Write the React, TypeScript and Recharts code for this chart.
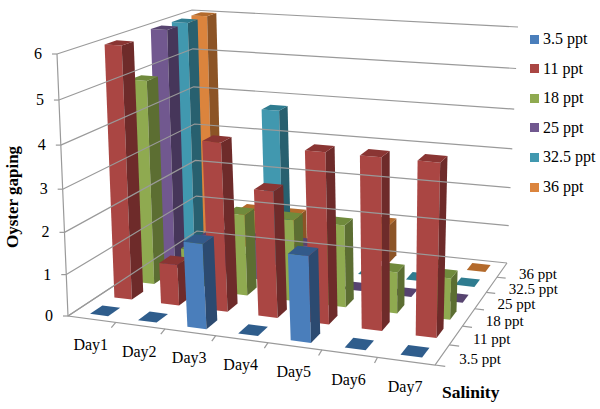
import React from "react";
import { BarChart, Bar, XAxis, YAxis, Legend, Customized } from "recharts";

const days = ["Day1", "Day2", "Day3", "Day4", "Day5", "Day6", "Day7"];
const salinityLabels = ["3.5 ppt", "11 ppt", "18 ppt", "25 ppt", "32.5 ppt", "36 ppt"];
const s35 = [0, 0, 2, 0, 2, 0, 0];
const s11 = [6, 1, 4, 3, 4, 4, 4];
const s18 = [5, 1, 2, 2, 2, 1, 1];
const s25 = [6, 1, 1, 1, 0, 0, 0];
const s325 = [6, 0, 4, 0, 0, 0, 0];
const s36 = [6, 1, 1, 0, 1, 0, 0];
const seriesValues = [s35, s11, s18, s25, s325, s36];
const yTicks = [0, 1, 2, 3, 4, 5, 6];

const front = ["#4A7EBB", "#AA4643", "#8FAA50", "#71588F", "#4198AF", "#DB843D"];
const side = ["#2C4A70", "#6E2B2A", "#5C6E32", "#46365A", "#28606F", "#8C5426"];
const topC = ["#335A8A", "#8A3533", "#708A3C", "#574470", "#2F7C90", "#B36A2C"];

const tableData = days.map((d, i) => {
  const row: Record<string, any> = { day: d };
  salinityLabels.forEach((s, k) => (row[s] = seriesValues[k][i]));
  return row;
});

const W = 600, H = 409;
const M = { top: 20, right: 20, bottom: 20, left: 20 };
const XH = 30, YW = 30;
const PL = M.left + YW, PT = M.top, PW = W - M.left - M.right - YW, PH = H - M.top - M.bottom - XH;

type P = [number, number];
const quad = (a: P, b: P, c: P, d: P) => {
  const dx1 = b[0] - c[0], dx2 = d[0] - c[0], sx = a[0] - b[0] + c[0] - d[0];
  const dy1 = b[1] - c[1], dy2 = d[1] - c[1], sy = a[1] - b[1] + c[1] - d[1];
  const den = dx1 * dy2 - dx2 * dy1;
  const g = (sx * dy2 - dx2 * sy) / den, h = (dx1 * sy - sx * dy1) / den;
  const A = b[0] - a[0] + g * b[0], B = d[0] - a[0] + h * d[0], C = a[0];
  const D = b[1] - a[1] + g * b[1], E = d[1] - a[1] + h * d[1], F = a[1];
  return (u: number, v: number): P => {
    const q = g * u + h * v + 1;
    return [(A * u + B * v + C) / q, (D * u + E * v + F) / q];
  };
};
const floor = quad([68, 316], [435, 365], [507, 263], [197, 231]);
const ceil = quad([57, 54], [441, 85], [518, 27], [192, 10]);
const K = 0.938;
const proj = (u: number, v: number, w: number): P => {
  const a = floor(u, v), b = ceil(u, v);
  const t = (w * K) / (1 + (K - 1) * w);
  return [a[0] + (b[0] - a[0]) * t, a[1] + (b[1] - a[1]) * t];
};
const pts = (l: P[]) => l.map((p) => p[0].toFixed(1) + "," + p[1].toFixed(1)).join(" ");
const GRID = "#9a9a9a";
const FONT = "'Liberation Serif', serif";

const BAR_U = 0.19, BAR_V = 0.25;

const makeShape = (k: number) => (props: any) => {
  const { x, y, width, height } = props;
  if (x == null) return null;
  const u = (x + width / 2 - PL) / PW + 0.003;
  const w0 = (PT + PH - (y + height)) / PH;
  const w1 = (PT + PH - y) / PH;
  const hu = BAR_U / 7, v = (k + 0.5) / 6, hv = BAR_V / 6;
  const c = (du: number, dv: number, ww: number) => proj(u + du * hu, v + dv * hv, ww);
  const top = [c(-1, -1, w1), c(1, -1, w1), c(1, 1, w1), c(-1, 1, w1)];
  if (w1 - w0 < 0.001) return <polygon points={pts(top)} fill={k === 0 ? "#2F5D8C" : topC[k]} />;
  return (
    <g>
      <polygon points={pts([c(-1, -1, w0), c(1, -1, w0), c(1, -1, w1), c(-1, -1, w1)])} fill={front[k]} />
      <polygon points={pts([c(1, -1, w0), c(1, 1, w0), c(1, 1, w1), c(1, -1, w1)])} fill={side[k]} />
      <polygon points={pts(top)} fill={topC[k]} />
    </g>
  );
};

const xTick = (props: any) => {
  const { x, payload } = props;
  const u = (x - PL) / PW;
  const p = proj(u, 0, 0);
  const a = proj(u - 0.5 / 7, 0, 0);
  const b = proj(u - 0.5 / 7, -0.03, 0);
  const i = days.indexOf(payload.value);
  return (
    <g>
      {i > 0 && <line x1={a[0]} y1={a[1]} x2={b[0]} y2={b[1] + 2} stroke={GRID} strokeWidth={1.2} />}
      <text x={p[0] - 1} y={p[1] + 31} textAnchor="middle" fontFamily={FONT} fontSize={16} fill="#000">{payload.value}</text>
    </g>
  );
};

const yTick = (props: any) => {
  const { y, payload } = props;
  const w = (PT + PH - y) / PH;
  const a = proj(0, 0, w), b = proj(0, 1, w), c = proj(1, 1, w);
  return (
    <g>
      <polyline points={pts([a, b, c])} fill="none" stroke={GRID} strokeWidth={1.2} />
      <line x1={a[0] - 5} y1={a[1]} x2={a[0]} y2={a[1]} stroke={GRID} strokeWidth={1.2} />
      <text x={a[0] - 15} y={a[1] + 5} textAnchor="end" fontFamily={FONT} fontSize={16} fill="#000">{payload.value}</text>
    </g>
  );
};

const Frame = () => {
  const p0 = proj(0, 0, 0), p1 = proj(1, 0, 0), p2 = proj(1, 1, 0), p6 = proj(0, 0, 1), p3 = proj(0, 1, 0);
  return (
    <g>
      <polyline points={pts([p6, p0, p1, p2])} fill="none" stroke={GRID} strokeWidth={1.2} />
      <polyline points={pts([p0, p3])} fill="none" stroke={GRID} strokeWidth={1.2} />
      {salinityLabels.map((s, k) => {
        const a = proj(1, (k + 0.5) / 6, 0);
        const t0 = proj(1, k / 6, 0), t1 = proj(1.025, k / 6, 0);
        return (
          <g key={s}>
            <line x1={t0[0]} y1={t0[1]} x2={t1[0]} y2={t1[1]} stroke={GRID} strokeWidth={1.2} />
            <text x={a[0] + 17} y={a[1] + 9} fontFamily={FONT} fontSize={15} fill="#000">{s}</text>
          </g>
        );
      })}
      <text x={442} y={398} fontFamily={FONT} fontSize={17.5} fontWeight="bold" fill="#000">Salinity</text>
      <text transform="translate(18,197) rotate(-90)" textAnchor="middle" fontFamily={FONT} fontSize={17} fontWeight="bold" fill="#000">Oyster gaping</text>
    </g>
  );
};

const legendContent = () => (
  <div style={{ fontFamily: FONT, fontSize: 16, color: "#000" }}>
    {salinityLabels.map((s, k) => (
      <div key={s} style={{ position: "absolute", left: 0, top: k * 29.6, display: "flex", alignItems: "center", height: 18, whiteSpace: "nowrap" }}>
        <span style={{ width: 9, height: 9, background: front[k], marginRight: 4, display: "inline-block" }} />
        {s}
      </div>
    ))}
  </div>
);

export default function App() {
  const order = [5, 4, 3, 2, 1, 0];
  return (
    <BarChart width={W} height={H} data={tableData} margin={M} barSize={10} barGap={-10} style={{ position: "absolute", left: 0, top: 0 }}>
      <XAxis dataKey="day" height={XH} axisLine={false} tickLine={false} tick={xTick} interval={0} />
      <YAxis width={YW} domain={[0, 6]} ticks={yTicks} axisLine={false} tickLine={false} tick={yTick} />
      <Customized component={Frame} />
      {order.map((k) => (
        <Bar key={k} dataKey={salinityLabels[k]} name={salinityLabels[k]} fill={front[k]} isAnimationActive={false} shape={makeShape(k)} />
      ))}
      <Legend layout="vertical" align="center" verticalAlign="middle" content={legendContent} wrapperStyle={{ position: "absolute", left: 530, top: 30, width: 70, height: 180 }} />
    </BarChart>
  );
}
